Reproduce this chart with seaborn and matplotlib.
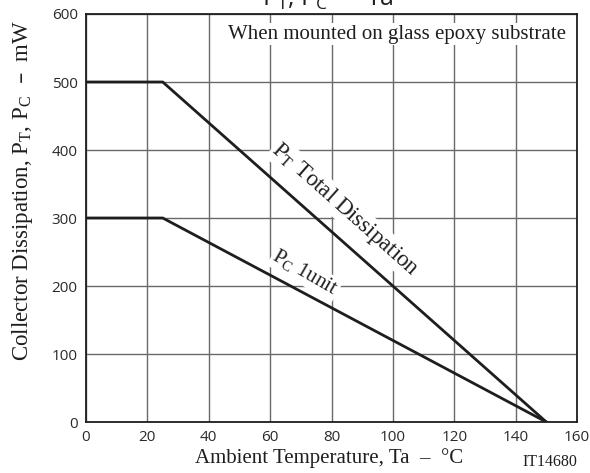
import matplotlib
matplotlib.use("Agg")
import matplotlib.pyplot as plt
import seaborn as sns
import pandas as pd

temp_pt = [0, 25, 150]
power_pt = [500, 500, 0]
temp_pc = [0, 25, 150]
power_pc = [300, 300, 0]
x_ticks = [0, 20, 40, 60, 80, 100, 120, 140, 160]
y_ticks = [0, 100, 200, 300, 400, 500, 600]

df = pd.concat([
    pd.DataFrame({"Ta": temp_pt, "P": power_pt, "curve": "PT"}),
    pd.DataFrame({"Ta": temp_pc, "P": power_pc, "curve": "PC"}),
])

sns.set_style("white")
plt.rcParams["font.family"] = ["Open Sans", "DejaVu Sans"]
serif = ["Liberation Serif", "DejaVu Serif"]
ink = "#1e1e1e"

fig = plt.figure(figsize=(5.9, 4.73), dpi=100)
ax = fig.add_axes([86 / 590, 1 - 422 / 473, 491 / 590, 408 / 473])

sns.lineplot(data=df, x="Ta", y="P", units="curve", estimator=None,
             color=ink, linewidth=2.0, ax=ax, sort=False, zorder=3)

ax.set_xlim(0, 160)
ax.set_ylim(0, 600)
ax.set_xticks(x_ticks)
ax.set_yticks(y_ticks)
ax.set_axisbelow(True)
ax.grid(True, color="#6a6a6a", linewidth=1.0, zorder=0.5)
ax.tick_params(length=0, colors="#2a2a2a", labelsize=11, pad=6)
for s in ax.spines.values():
    s.set_color(ink)
    s.set_linewidth(1.3)
    s.set_zorder(5)

ax.set_xlabel("Ambient Temperature, Ta  –  °C", family=serif, fontsize=15,
              color=ink)
ax.xaxis.set_label_coords((329 - 86) / 491, -(448 - 422) / 408)
ax.set_ylabel("Collector Dissipation, P$_\\mathregular{T}$, P$_\\mathregular{C}$  –  mW",
              family=serif, fontsize=16.5, color=ink)
ax.yaxis.set_label_coords((35 - 86) / 491, (422 - 190) / 408)

fig.text(550 / 590, 1 - 466 / 473, "IT14680", family=serif, fontsize=11.5,
         ha="center", va="baseline", color=ink)
fig.text(328 / 590, 1 - 6 / 473, "P$_\\mathregular{T}$, P$_\\mathregular{C}$  –  Ta",
         family=["Open Sans", "DejaVu Sans"], fontsize=18, ha="center",
         va="baseline", color=ink)

ax.text(156.4, 570, "When mounted on glass epoxy substrate", family=serif,
        fontsize=15, ha="right", va="center", color=ink, zorder=2,
        bbox=dict(facecolor="white", edgecolor="none", pad=1))

ax.text(84.5, 312, "P$_\\mathregular{T}$ Total Dissipation", family=serif,
        fontsize=16.5, ha="center", va="center", rotation=-41.6,
        rotation_mode="anchor", color=ink, zorder=2,
        bbox=dict(facecolor="white", edgecolor="none", pad=1))
ax.text(71.4, 219, "P$_\\mathregular{C}$ 1unit", family=serif,
        fontsize=15, ha="center", va="center", rotation=-30,
        rotation_mode="anchor", color=ink, zorder=2,
        bbox=dict(facecolor="white", edgecolor="none", pad=1))

fig.savefig("out.png", dpi=100)
